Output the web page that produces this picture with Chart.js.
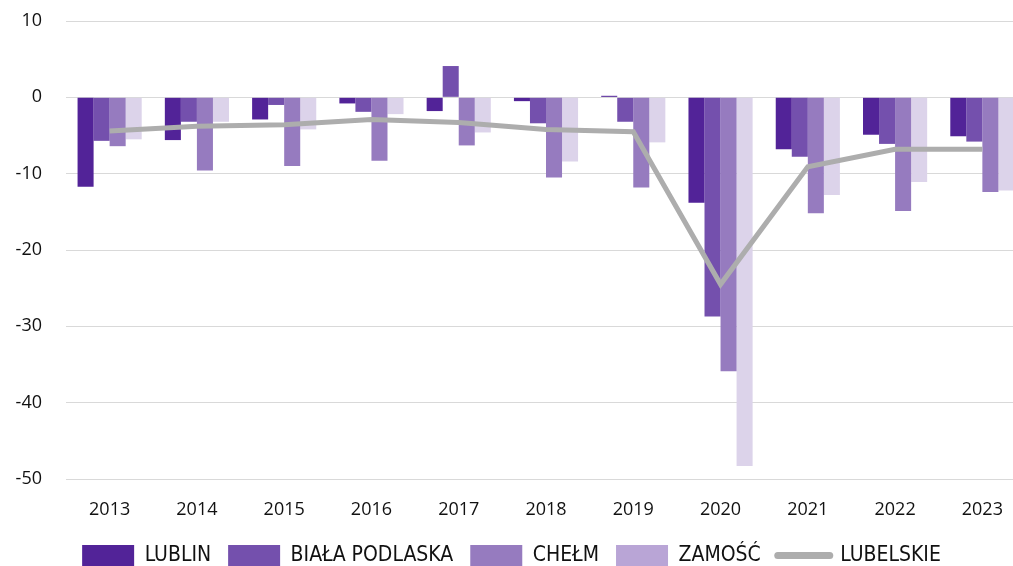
<!DOCTYPE html>
<html>
<head>
<meta charset="utf-8">
<script src="https://cdn.jsdelivr.net/npm/chart.js@4/dist/chart.umd.min.js"></script>
<style>
    html, body { margin: 0; padding: 0; background: #fff; overflow: hidden; }
    #wrap { position: absolute; left: 0; top: 0; width: 1026px; height: 566px; }
</style>
</head>
<body>
<div id="wrap"><canvas id="chart"></canvas></div>
<script>
// lata
const years = ['2013', '2014', '2015', '2016', '2017', '2018', '2019', '2020', '2021', '2022', '2023']

// serie
const lublin = [-11.7, -5.6, -2.9, -0.8, -1.8, -0.5, 0.2, -13.8, -6.8, -4.9, -5.1]
const bialaPodlaska = [-5.7, -3.2, -1.0, -1.9, 4.1, -3.4, -3.2, -28.7, -7.8, -6.1, -5.8]
const chelm = [-6.4, -9.6, -9.0, -8.3, -6.3, -10.5, -11.8, -35.9, -15.2, -14.9, -12.4]
const zamosc = [-5.5, -3.2, -4.2, -2.2, -4.6, -8.4, -5.9, -48.3, -12.8, -11.1, -12.2]
const lubelskie = [-4.4, -3.8, -3.6, -2.9, -3.3, -4.2, -4.5, -24.5, -9.1, -6.8, -6.8]

// osie
const yMin = -50
const yMax = 10
const yStep = 10

const tickFont = {family: "'Open Sans'", size: 18}
const legendColors = ['#522398', '#7450ad', '#967bbf', '#b9a5d6']

const bar = (label, data, color) => ({
    type: 'bar',
    label: label,
    data: data,
    backgroundColor: color,
    borderWidth: 0,
    order: 1
})

new Chart(document.getElementById('chart'), {
    data: {
        labels: years,
        datasets: [
            bar('LUBLIN', lublin, '#522398'),
            bar('BIAŁA PODLASKA', bialaPodlaska, '#7450ad'),
            bar('CHEŁM', chelm, '#967bbf'),
            bar('ZAMOŚĆ', zamosc, '#dcd3ea'),
            {
                type: 'line',
                label: 'LUBELSKIE',
                data: lubelskie,
                borderColor: '#adadad',
                backgroundColor: '#adadad',
                borderWidth: 5,
                pointRadius: 0,
                tension: 0,
                order: 0
            }
        ]
    },
    options: {
        responsive: true,
        maintainAspectRatio: false,
        animation: false,
        datasets: {
            bar: {
                categoryPercentage: 0.735,
                barPercentage: 1
            }
        },
        layout: {
            padding: {left: -3, right: 0, top: 21, bottom: -10}
        },
        plugins: {
            tooltip: {enabled: false},
            legend: {
                position: 'bottom',
                labels: {
                    usePointStyle: true,
                    pointStyleWidth: 52,
                    boxHeight: 23,
                    padding: 17,
                    color: '#111',
                    font: {family: "'DejaVu Sans Condensed', 'DejaVu Sans'", size: 21},
                    sort: (a, b) => a.datasetIndex - b.datasetIndex,
                    generateLabels: (chart) => chart.data.datasets.map((ds, i) => {
                        const isLine = ds.type === 'line'
                        return {
                            text: ds.label,
                            datasetIndex: i,
                            fillStyle: isLine ? '#adadad' : legendColors[i],
                            strokeStyle: '#adadad',
                            lineWidth: isLine ? 7 : 0,
                            lineCap: 'round',
                            pointStyle: isLine ? 'line' : 'rect',
                            hidden: false,
                            fontColor: '#111'
                        }
                    })
                }
            }
        },
        scales: {
            x: {
                offset: true,
                grid: {display: false, drawTicks: false},
                border: {display: false},
                ticks: {
                    color: '#111',
                    font: tickFont,
                    padding: 20,
                    maxRotation: 0
                },
                afterFit: (scale) => {
                    scale.height = 49
                    scale.paddingLeft = 0
                    scale.paddingRight = 0
                }
            },
            y: {
                min: yMin,
                max: yMax,
                grid: {color: '#d9d9d9', lineWidth: 1, drawTicks: false},
                border: {display: false},
                ticks: {
                    stepSize: yStep,
                    color: '#111',
                    font: tickFont,
                    padding: 24
                },
                afterFit: (scale) => {
                    scale.width = 69
                    scale.paddingTop = 0
                    scale.paddingBottom = 0
                }
            }
        }
    }
})
</script>
</body>
</html>
